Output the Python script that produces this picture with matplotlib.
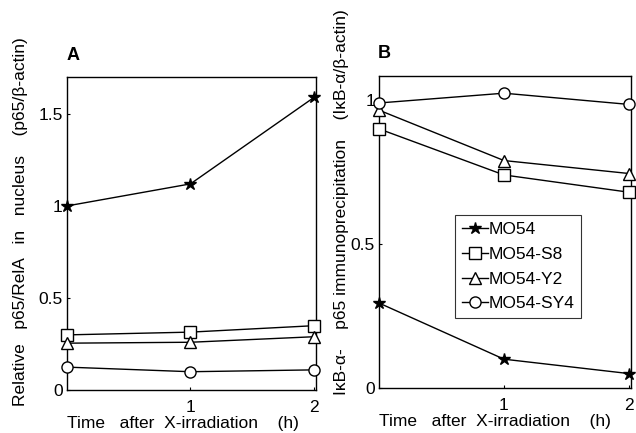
import matplotlib
matplotlib.use("Agg")
import matplotlib.pyplot as plt

plt.rcParams['font.family'] = ['Liberation Sans', 'DejaVu Sans']

hours = [0, 1, 2]
series = ["MO54", "MO54-S8", "MO54-Y2", "MO54-SY4"]
markers = ["*", "s", "^", "o"]

# panel A: nuclear p65/RelA
a_mo54 = [1.00, 1.12, 1.59]
a_s8 = [0.30, 0.315, 0.35]
a_y2 = [0.255, 0.26, 0.29]
a_sy4 = [0.125, 0.10, 0.11]

# panel B: IkB-a bound to p65
b_mo54 = [0.295, 0.10, 0.05]
b_s8 = [0.90, 0.74, 0.68]
b_y2 = [0.965, 0.79, 0.745]
b_sy4 = [0.99, 1.024, 0.985]

a_yticks = [0, 0.5, 1, 1.5]
a_ylabels = ["0", "0.5", "1", "1.5"]
b_yticks = [0, 0.5, 1]
b_ylabels = ["0", "0.5", "1"]
xtick_pos = [1, 2]
xtick_labels = ["1", "2"]

fig = plt.figure(figsize=(6.36, 4.33), dpi=100)
axA = fig.add_axes([0.105, 0.099, 0.392, 0.723])
axB = fig.add_axes([0.596, 0.104, 0.396, 0.720])


def draw_panel(ax, data, ylim, yticks, ylabels):
    for vals, mk, name in zip(data, markers, series):
        face = "black" if mk == "*" else "white"
        ms = 9 if mk == "*" else 8
        ax.plot(hours, vals, color="black", lw=1.0, marker=mk, ms=ms,
                mfc=face, mec="black", mew=1.0, label=name, clip_on=False,
                zorder=3)
    ax.set_xlim(0, 2.016)
    ax.set_ylim(*ylim)
    ax.set_xticks(xtick_pos)
    ax.set_xticklabels(xtick_labels, fontsize=12.5)
    ax.set_yticks(yticks)
    ax.set_yticklabels(ylabels, fontsize=12.5)
    ax.tick_params(direction="in", length=2, width=0.8, pad=3)
    ax.tick_params(axis="x", pad=7)
    for s in ax.spines.values():
        s.set_linewidth(1.0)
    ax.set_xlabel("Time   after  X-irradiation    (h)", fontsize=12.5,
                  labelpad=1, loc="left")


draw_panel(axA, [a_mo54, a_s8, a_y2, a_sy4], (0, 1.7), a_yticks, a_ylabels)
draw_panel(axB, [b_mo54, b_s8, b_y2, b_sy4], (0, 1.083), b_yticks, b_ylabels)

axA.set_ylabel("Relative   p65/RelA   in   nucleus    (p65/\u03b2-actin)",
               fontsize=12.5)
axA.yaxis.set_label_coords(-0.157, 0.537)
axB.set_ylabel("I\u03baB-\u03b1-    p65 immunoprecipitation    (I\u03baB-\u03b1/\u03b2-actin)",
               fontsize=12.5)
axB.yaxis.set_label_coords(-0.118, 0.596)

fig.text(0.105, 0.862, "A", fontsize=13, fontweight="bold")
fig.text(0.594, 0.866, "B", fontsize=13, fontweight="bold")

leg = axB.legend(loc="upper left", bbox_to_anchor=(0.30, 0.554), fontsize=12.5,
                 frameon=True, fancybox=False, edgecolor="black",
                 handlelength=1.5, handletextpad=0.05, borderpad=0.4,
                 labelspacing=0.55, borderaxespad=0)
leg.get_frame().set_linewidth(0.8)

fig.savefig("out.png", dpi=100)
